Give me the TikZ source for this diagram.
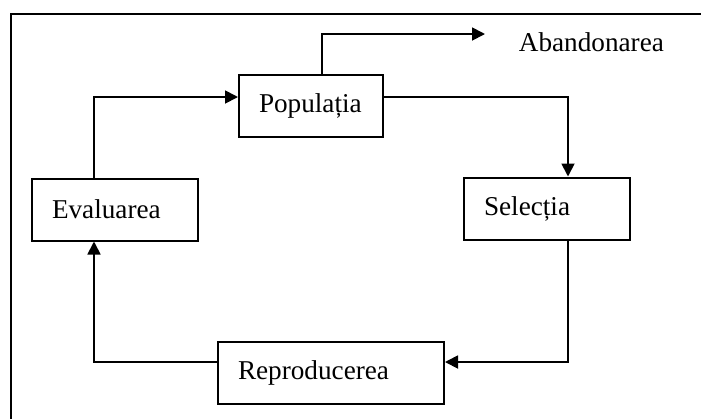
\documentclass[tikz,border=0pt]{standalone}
\usepackage{fontspec}
\setmainfont{Liberation Serif}
\usetikzlibrary{arrows.meta,
  positioning
}

\begin{document}
\begin{tikzpicture}[x=0.5pt,y=-0.5pt,
        >={Triangle[length=6.5pt,width=6.5pt]},
        every path/.style={line width=0.9pt},
        stagebox/.style={rectangle, draw=black, line width=1pt, minimum height=31pt,
          inner xsep=10pt, align=left, font=\fontsize{13.6}{16}\selectfont},
      ]
      \useasboundingbox (0,0) rectangle (701,419);
      % Frame
      \draw[line width=1pt] (701,14) -- (11,14) -- (11,419);

      % Nodes
      \node[stagebox, text width=52pt] (populatia) at (311,106) {Populația};
      \node[stagebox, text width=63pt] (evaluarea) at (115,209.5) {Evaluarea};
      \node[stagebox, text width=63pt] (selectia) at (547,208.5) {Selecția};
      \node[stagebox, text width=93pt] (reproducerea) at (331,373) {Reproducerea};
      \node[inner sep=0pt, anchor=west, font=\fontsize{13.6}{16}\selectfont] (abandonarea) at (518,42) {Abandonarea};

      % Lines
      \draw[->] ([xshift=-10.5pt]evaluarea.north) |- ([yshift=4.5pt]populatia.west);
      \draw[->] ([yshift=4.5pt]populatia.east) -| ([xshift=10.5pt]selectia.north);
      \draw[->] ([xshift=10.5pt]selectia.south) |- ([yshift=5.5pt]reproducerea.east);
      \draw[->] ([yshift=5.5pt]reproducerea.west) -| ([xshift=-10.5pt]evaluarea.south);
      \draw[->] ([xshift=5.5pt]populatia.north) |- ([xshift=-16.5pt,yshift=4pt]abandonarea.west);
    \end{tikzpicture}
\end{document}
